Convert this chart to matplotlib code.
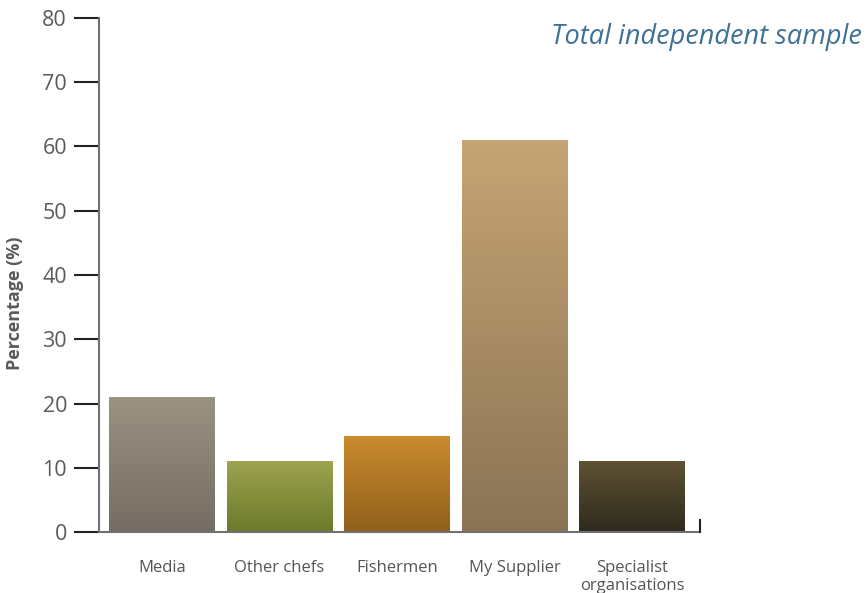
import matplotlib
matplotlib.use("Agg")
import matplotlib.pyplot as plt
import numpy as np
from matplotlib.colors import LinearSegmentedColormap

# Where chefs get their information
categories = ["Media", "Other chefs", "Fishermen", "My Supplier", "Specialist\norganisations"]
values = [21, 11, 15, 61, 11]
# top / bottom colour of each bar's gradient
top_colours = ["#9a9282", "#9da34f", "#cc8c30", "#c6a474", "#5e5232"]
bottom_colours = ["#756d63", "#6b7a2a", "#8f5f1a", "#8a7455", "#2e2a1e"]
y_ticks = [0, 10, 20, 30, 40, 50, 60, 70, 80]

plt.rcParams['font.family'] = ['Open Sans', 'DejaVu Sans']

fig = plt.figure(figsize=(8.68, 5.93), dpi=100)
ax = fig.add_axes([99 / 868, 61 / 593, 601 / 868, 514 / 593])

x = np.arange(len(categories))
bar_w = 0.9
bars = ax.bar(x, values, width=bar_w, color="none", edgecolor="none")

grad = np.linspace(1, 0, 256).reshape(-1, 1)
for bar, top, bottom in zip(bars, top_colours, bottom_colours):
    cmap = LinearSegmentedColormap.from_list("g", [bottom, top])
    x0, w, h = bar.get_x(), bar.get_width(), bar.get_height()
    im = ax.imshow(grad, cmap=cmap, vmin=0, vmax=1, aspect="auto",
                   extent=(x0, x0 + w, 0, h), zorder=2)
    im.set_clip_path(bar)

x_left, x_right = -0.536, 4.579
ax.set_xlim(x_left, x_right)
ax.set_ylim(0, 80)

for side in ["top", "right"]:
    ax.spines[side].set_visible(False)
ax.spines["left"].set_color("#707070")
ax.spines["bottom"].set_color("#707070")
ax.spines["left"].set_linewidth(1.5)
ax.spines["bottom"].set_linewidth(1.5)

# small end mark on the right of the baseline
ax.plot([x_right, x_right], [0, 1.9], color="#222222", lw=1.5, clip_on=False, zorder=3)

ax.set_yticks(y_ticks)
ax.tick_params(axis="y", direction="out", length=18, width=1.5, color="#222222",
               labelsize=15.5, labelcolor="#5a5a5a", pad=5)
ax.set_xticks(x)
ax.set_xticklabels(categories, fontsize=12, color="#555555", linespacing=1.15)
ax.tick_params(axis="x", length=0, pad=20)

ax.set_ylabel("Percentage (%)", fontsize=13, fontweight="bold", color="#5a5a5a")
ax.yaxis.set_label_coords(-0.125, 0.446)

fig.text(862 / 868, 1 - 37 / 593, "Total independent sample", ha="right", va="center",
         fontsize=19.5, style="italic", color="#3f7195")

fig.savefig("out.png", dpi=100)
